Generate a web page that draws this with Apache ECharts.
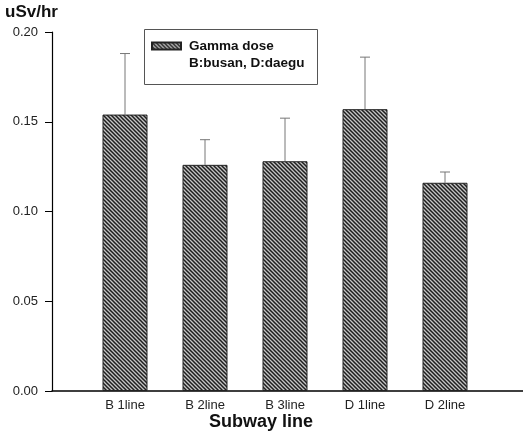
<!DOCTYPE html>
<html>
<head>
<meta charset="utf-8">
<script src="https://cdn.jsdelivr.net/npm/echarts@6/dist/echarts.min.js"></script>
<style>html,body{margin:0;padding:0;background:#fff}#c{width:523px;height:434px}</style>
</head>
<body>
<div id="c"></div>
<script>
const categories = ['B 1line', 'B 2line', 'B 3line', 'D 1line', 'D 2line'];
const doseValues = [0.154, 0.126, 0.128, 0.157, 0.116];
const errorUpper = [0.188, 0.140, 0.152, 0.186, 0.122];
const yTicks = [0, 0.05, 0.10, 0.15, 0.20];

function makeHatch() {
  const s = 4;
  const cv = document.createElement('canvas');
  cv.width = s; cv.height = s;
  const ctx = cv.getContext('2d');
  ctx.fillStyle = '#c4c4c4';
  ctx.fillRect(0, 0, s, s);
  ctx.strokeStyle = '#1e1e1e';
  ctx.lineWidth = 1.5;
  ctx.beginPath();
  ctx.moveTo(-1, -1); ctx.lineTo(s + 1, s + 1);
  ctx.moveTo(-1, s - 1); ctx.lineTo(1, s + 1);
  ctx.moveTo(s - 1, -1); ctx.lineTo(s + 1, 1);
  ctx.stroke();
  return cv;
}
const hatch = { image: makeHatch(), repeat: 'repeat' };
const FONT = 'Liberation Sans, Arial, sans-serif';

const chart = echarts.init(document.getElementById('c'));
chart.setOption({
  animation: false,
  textStyle: { fontFamily: FONT },
  grid: [
    { left: 52, right: 0, top: 32, bottom: 43 },
    { left: 85, width: 400, top: 32, bottom: 43 }
  ],
  xAxis: [
    { type: 'value', gridIndex: 0, min: 0, max: 1, axisLine: { show: true, lineStyle: { color: '#000', width: 1.5 } },
      axisTick: { show: false }, axisLabel: { show: false }, splitLine: { show: false } },
    { type: 'category', gridIndex: 1, data: categories, axisLine: { show: false }, axisTick: { show: false },
      axisLabel: { color: '#222', fontSize: 13, margin: 8 } }
  ],
  yAxis: [
    { type: 'value', gridIndex: 0, min: yTicks[0], max: yTicks[yTicks.length - 1], interval: 0.05,
      axisLine: { show: true, lineStyle: { color: '#000', width: 1.2 } },
      axisTick: { show: true, length: 7, lineStyle: { color: '#000' } },
      axisLabel: { color: '#222', fontSize: 13, margin: 14, formatter: v => v.toFixed(2) },
      splitLine: { show: false } },
    { type: 'value', gridIndex: 1, min: yTicks[0], max: yTicks[yTicks.length - 1], show: false }
  ],
  legend: {
    data: [{ name: 'Gamma dose', icon: 'rect' }], left: 151, top: 39, itemWidth: 29, itemHeight: 7, itemGap: 8,
    padding: 0, textStyle: { fontSize: 13.5, fontWeight: 'bold', color: '#111', padding: [0, 0, 0, 3] }
  },
  graphic: [
    { type: 'rect', left: 142, top: 27, shape: { width: 173, height: 55 },
      style: { fill: 'none', stroke: '#555', lineWidth: 1 } },
    { type: 'text', left: 189, top: 56, style: { text: 'B:busan, D:daegu', fontSize: 13.5, fontWeight: 'bold', fill: '#111', fontFamily: FONT } },
    { type: 'text', left: 5, top: 4, style: { text: 'uSv/hr', fontSize: 17, fontWeight: 'bold', fill: '#111', fontFamily: FONT } },
    { type: 'text', left: 209, top: 413, style: { text: 'Subway line', fontSize: 18, fontWeight: 'bold', fill: '#111', fontFamily: FONT } }
  ],
  series: [
    {
      name: 'Gamma dose', type: 'bar', xAxisIndex: 1, yAxisIndex: 1, data: doseValues, barWidth: 45,
      itemStyle: { color: hatch, borderColor: '#222', borderWidth: 1 }
    },
    {
      type: 'custom', xAxisIndex: 1, yAxisIndex: 1, z: 1,
      data: categories.map((c, i) => [i, doseValues[i], errorUpper[i]]),
      renderItem: function (params, api) {
        const base = api.coord([api.value(0), api.value(1)]);
        const top = api.coord([api.value(0), api.value(2)]);
        return {
          type: 'group',
          children: [
            { type: 'line', shape: { x1: base[0], y1: base[1], x2: top[0], y2: top[1] }, style: { stroke: '#777', lineWidth: 1 } },
            { type: 'line', shape: { x1: top[0] - 5, y1: top[1], x2: top[0] + 5, y2: top[1] }, style: { stroke: '#777', lineWidth: 1 } }
          ]
        };
      }
    }
  ]
});
</script>
</body>
</html>
